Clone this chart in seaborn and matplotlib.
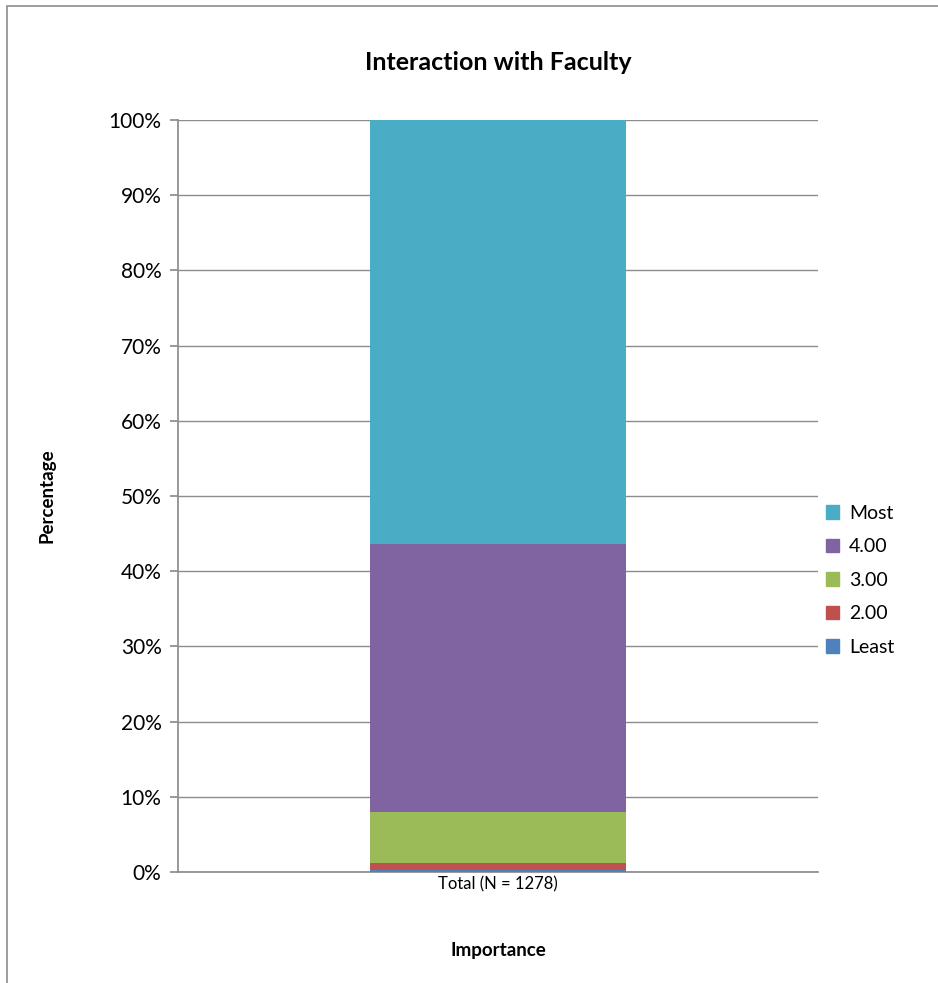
import numpy as np
import pandas as pd
import matplotlib
matplotlib.use('Agg')
import matplotlib.pyplot as plt
import seaborn as sns
from matplotlib.patches import Rectangle, Patch
from matplotlib.ticker import PercentFormatter

# Data (percent of respondents)
categories = ['Total (N = 1278)']
levels = ['Least', '2.00', '3.00', '4.00', 'Most']
values = [0.3, 0.9, 6.8, 35.6, 56.4]
colors = ['#4F81BD', '#C0504D', '#9BBB59', '#8064A2', '#4BACC6']

sns.set_theme(style='white')
plt.rcParams['font.family'] = ['Lato', 'DejaVu Sans']
plt.rcParams['text.color'] = 'black'
plt.rcParams['axes.labelcolor'] = 'black'
plt.rcParams['xtick.color'] = 'black'
plt.rcParams['ytick.color'] = 'black'

fig = plt.figure(figsize=(9.38, 9.83), dpi=100)
ax = fig.add_axes([0.19, 0.113, 0.682, 0.765])

# stacked bar: draw cumulative totals, tallest first
cum = np.cumsum(values)
for lvl, c, col in reversed(list(zip(levels, cum, colors))):
    df = pd.DataFrame({'cat': categories, 'val': [c]})
    sns.barplot(data=df, x='cat', y='val', color=col, width=0.4,
                saturation=1, ax=ax, zorder=3, linewidth=0)

ax.set_ylim(0, 100)
ax.set_xlim(-0.5, 0.5)
ax.set_yticks(np.arange(0, 101, 10))
ax.yaxis.set_major_formatter(PercentFormatter(decimals=0))
ax.grid(axis='y', color='#8c8c8c', linewidth=1, zorder=0)
ax.tick_params(axis='y', labelsize=15, length=6, color='#8c8c8c', left=True, pad=6)
ax.tick_params(axis='x', labelsize=12, length=0, pad=3)
for s in ['top', 'right']:
    ax.spines[s].set_visible(False)
ax.spines['left'].set_color('#8c8c8c')
ax.spines['bottom'].set_color('#8c8c8c')

ax.set_xlabel('Importance', fontsize=13.5, fontweight='bold', labelpad=36)
ax.set_ylabel('Percentage', fontsize=13.5, fontweight='bold', labelpad=38)
ax.set_title('Interaction with Faculty', fontsize=18, fontweight='bold', pad=36)

handles = [Patch(color=col, label=lvl) for lvl, col in zip(levels, colors)][::-1]
ax.legend(handles=handles, loc='center left', bbox_to_anchor=(1.0, 0.388),
          frameon=False, fontsize=14, handlelength=0.7, handleheight=0.7,
          handletextpad=0.5, labelspacing=0.85, borderaxespad=0.0)

fig.patches.append(Rectangle((7 / 938, -0.1), 2.0, 1.1 - 6 / 983,
                             transform=fig.transFigure, fill=False,
                             edgecolor='#8c8c8c', linewidth=1.2))

fig.savefig('out.png', dpi=100)
